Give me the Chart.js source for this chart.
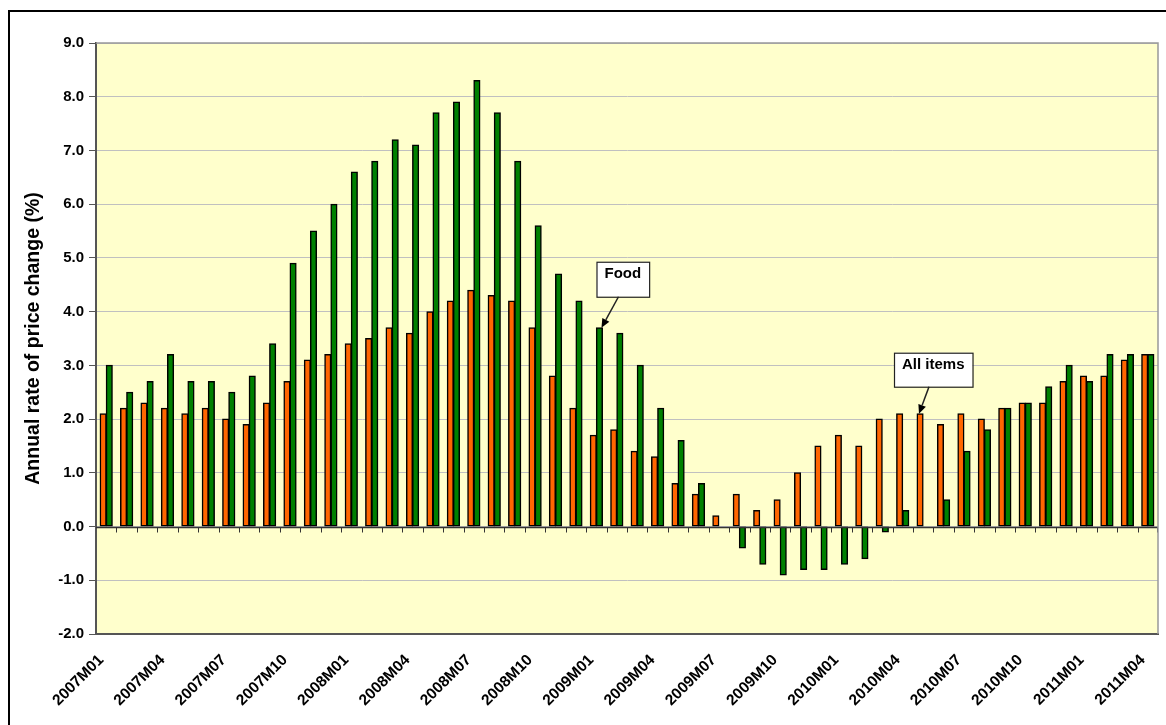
<!DOCTYPE html>
<html>
<head>
<meta charset="utf-8">
<script src="https://cdn.jsdelivr.net/npm/chart.js@4.4.1/dist/chart.umd.min.js"></script>
<style>
  body { margin: 0; background: #fff; }
  canvas { display: block; }
</style>
</head>
<body>
<canvas id="priceChart" width="1166" height="725"></canvas>
<script>
const months = [
  '2007M01','2007M02','2007M03','2007M04','2007M05','2007M06','2007M07','2007M08','2007M09','2007M10','2007M11','2007M12',
  '2008M01','2008M02','2008M03','2008M04','2008M05','2008M06','2008M07','2008M08','2008M09','2008M10','2008M11','2008M12',
  '2009M01','2009M02','2009M03','2009M04','2009M05','2009M06','2009M07','2009M08','2009M09','2009M10','2009M11','2009M12',
  '2010M01','2010M02','2010M03','2010M04','2010M05','2010M06','2010M07','2010M08','2010M09','2010M10','2010M11','2010M12',
  '2011M01','2011M02','2011M03','2011M04'
];

const allItems = [
  2.1, 2.2, 2.3, 2.2, 2.1, 2.2, 2.0, 1.9, 2.3, 2.7, 3.1, 3.2,
  3.4, 3.5, 3.7, 3.6, 4.0, 4.2, 4.4, 4.3, 4.2, 3.7, 2.8, 2.2,
  1.7, 1.8, 1.4, 1.3, 0.8, 0.6, 0.2, 0.6, 0.3, 0.5, 1.0, 1.5,
  1.7, 1.5, 2.0, 2.1, 2.1, 1.9, 2.1, 2.0, 2.2, 2.3, 2.3, 2.7,
  2.8, 2.8, 3.1, 3.2
];

const food = [
  3.0, 2.5, 2.7, 3.2, 2.7, 2.7, 2.5, 2.8, 3.4, 4.9, 5.5, 6.0,
  6.6, 6.8, 7.2, 7.1, 7.7, 7.9, 8.3, 7.7, 6.8, 5.6, 4.7, 4.2,
  3.7, 3.6, 3.0, 2.2, 1.6, 0.8, 0.0, -0.4, -0.7, -0.9, -0.8, -0.8,
  -0.7, -0.6, -0.1, 0.3, 0.0, 0.5, 1.4, 1.8, 2.2, 2.3, 2.6, 3.0,
  2.7, 3.2, 3.2, 3.2
];

const yMin = -2;
const yMax = 9;
const yTitle = 'Annual rate of price change (%)';

// callouts: text, month it points at, series (0 = all items, 1 = food)
const calloutText = ['Food', 'All items'];
const calloutMonth = ['2009M01', '2010M05'];
const calloutSeries = [1, 0];

const fontFamily = "Arial, 'Liberation Sans', sans-serif";

function drawArrow(ctx, x1, y1, x2, y2) {
  const ang = Math.atan2(y2 - y1, x2 - x1);
  const len = 9, half = 4;
  const bx = x2 - len * Math.cos(ang), by = y2 - len * Math.sin(ang);
  ctx.beginPath();
  ctx.moveTo(x1, y1);
  ctx.lineTo(bx, by);
  ctx.stroke();
  ctx.beginPath();
  ctx.moveTo(x2, y2);
  ctx.lineTo(bx + half * Math.sin(ang), by - half * Math.cos(ang));
  ctx.lineTo(bx - half * Math.sin(ang), by + half * Math.cos(ang));
  ctx.closePath();
  ctx.fill();
}

const chartDecor = {
  id: 'chartDecor',
  beforeDraw(chart) {
    const {ctx, chartArea: a} = chart;
    ctx.save();
    ctx.fillStyle = '#ffffcc';
    ctx.fillRect(a.left, a.top, a.right - a.left, a.bottom - a.top);
    ctx.strokeStyle = '#000';
    ctx.lineWidth = 2;
    ctx.strokeRect(9, 11, 1400, 1000);
    ctx.restore();
  },
  afterDatasetsDraw(chart) {
    const {ctx, chartArea: a, scales} = chart;
    const y0 = Math.round(scales.y.getPixelForValue(0)) + 0.5;
    ctx.save();
    ctx.strokeStyle = '#333';
    ctx.lineWidth = 1.5;
    ctx.beginPath();
    ctx.moveTo(a.left, y0);
    ctx.lineTo(a.right, y0);
    ctx.stroke();
    ctx.lineWidth = 1;
    ctx.beginPath();
    for (let i = 1; i <= months.length; i++) {
      const x = i < months.length
        ? Math.round((scales.x.getPixelForValue(i - 1) + scales.x.getPixelForValue(i)) / 2) + 0.5
        : a.right - 0.5;
      ctx.moveTo(x, y0);
      ctx.lineTo(x, y0 + 5);
    }
    ctx.stroke();
    ctx.restore();
  },
  afterDraw(chart) {
    const {ctx, chartArea: a} = chart;
    ctx.save();
    ctx.strokeStyle = '#999';
    ctx.lineWidth = 1.5;
    ctx.beginPath();
    ctx.moveTo(a.left, a.top);
    ctx.lineTo(a.right, a.top);
    ctx.lineTo(a.right, a.bottom);
    ctx.stroke();

    ctx.font = 'bold 15px ' + fontFamily;
    ctx.textAlign = 'center';
    ctx.textBaseline = 'middle';
    calloutText.forEach((txt, k) => {
      const idx = months.indexOf(calloutMonth[k]);
      const bar = chart.getDatasetMeta(calloutSeries[k]).data[idx];
      let tip, box, from;
      const w = ctx.measureText(txt).width + 16;
      if (k === 0) {
        tip = {x: bar.x + bar.width / 2 - 1, y: bar.y};
        box = {x: tip.x - 5, y: tip.y - 66, w: w, h: 35};
        from = {x: tip.x + 17, y: box.y + box.h};
      } else {
        tip = {x: bar.x - bar.width / 2 + 2, y: bar.y};
        box = {x: tip.x - 25, y: tip.y - 61, w: w, h: 34};
        from = {x: tip.x + 10, y: box.y + box.h};
      }
      ctx.fillStyle = '#fff';
      ctx.fillRect(box.x, box.y, box.w, box.h);
      ctx.strokeStyle = '#222';
      ctx.lineWidth = 1.2;
      ctx.strokeRect(box.x + 0.5, box.y + 0.5, box.w, box.h);
      ctx.fillStyle = '#000';
      ctx.fillText(txt, box.x + box.w / 2, box.y + 12);
      ctx.lineWidth = 1.5;
      drawArrow(ctx, from.x, from.y, tip.x, tip.y);
    });
    ctx.restore();
  }
};

const barStyle = {
  borderColor: '#000',
  borderWidth: 1.5,
  borderSkipped: false,
  inflateAmount: 0.5,
  categoryPercentage: 0.6,
  barPercentage: 1.0
};

new Chart(document.getElementById('priceChart'), {
  type: 'bar',
  data: {
    labels: months,
    datasets: [
      Object.assign({label: 'All items', data: allItems, backgroundColor: '#ff6600'}, barStyle),
      Object.assign({label: 'Food', data: food, backgroundColor: '#008000'}, barStyle)
    ]
  },
  options: {
    responsive: false,
    animation: false,
    layout: {padding: {top: 43, right: 8, left: 0, bottom: 0}},
    plugins: {
      legend: {display: false},
      tooltip: {enabled: false}
    },
    scales: {
      x: {
        grid: {display: false},
        border: {color: '#555', width: 2},
        ticks: {
          autoSkip: false,
          maxRotation: 45,
          minRotation: 45,
          padding: 9,
          labelOffset: -5,
          color: '#000',
          font: {family: fontFamily, size: 15.5, weight: 'bold'},
          callback: function(value, index) {
            return index % 3 === 0 ? this.getLabelForValue(value) : '';
          }
        },
        afterFit(scale) {
          scale.height = 91;
          scale.paddingLeft = 0;
          scale.paddingRight = 0;
        }
      },
      y: {
        min: yMin,
        max: yMax,
        ticks: {
          stepSize: 1,
          padding: 5,
          color: '#000',
          font: {family: fontFamily, size: 15, weight: 'bold'},
          callback: v => v.toFixed(1)
        },
        grid: {color: '#c0c0c0', tickLength: 7, tickColor: '#555'},
        border: {color: '#555', width: 2},
        title: {
          display: true,
          text: yTitle,
          color: '#000',
          font: {family: fontFamily, size: 19.5, weight: 'bold'},
          padding: {top: 22, bottom: 0}
        },
        afterFit(scale) {
          scale.width = 96;
          scale.paddingTop = 0;
          scale.paddingBottom = 0;
        }
      }
    }
  },
  plugins: [chartDecor]
});
</script>
</body>
</html>
